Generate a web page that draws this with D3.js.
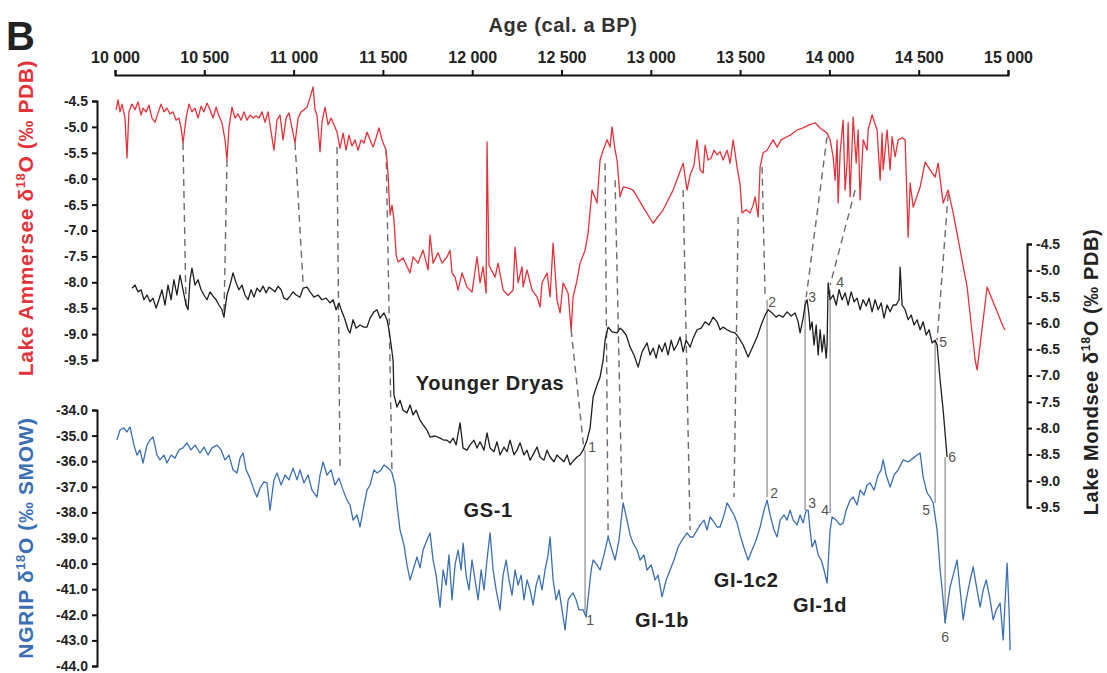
<!DOCTYPE html>
<html><head><meta charset="utf-8">
<script src="https://cdn.jsdelivr.net/npm/d3@7"></script>
<style>
body{margin:0;background:#fff}
svg{display:block}
text{font-family:"Liberation Sans",Arial,Helvetica,sans-serif}
</style>
</head><body>
<svg id="chart" width="1107" height="673"></svg>
<script>
// ---------- DATA ----------
const ageTicks = [10000,10500,11000,11500,12000,12500,13000,13500,14000,14500,15000];
const lakeTicks = [-4.5,-5.0,-5.5,-6.0,-6.5,-7.0,-7.5,-8.0,-8.5,-9.0,-9.5];
const ngripTicks = [-34,-35,-36,-37,-38,-39,-40,-41,-42,-43,-44];

// Lake Ammersee δ18O (‰ PDB)
const ammerseeAge = [10006,10017,10028,10039,10056,10067,10078,10095,10112,10129,10146,10157,10174,10190,10207,10224,10241,10258,10274,10291,10308,10325,10342,10358,10370,10381,10398,10414,10431,10448,10465,10482,10498,10515,10532,10549,10566,10582,10599,10616,10627,10638,10655,10672,10689,10706,10722,10739,10756,10773,10790,10806,10823,10840,10857,10874,10890,10907,10924,10941,10958,10974,10991,11008,11025,11042,11058,11075,11092,11109,11120,11131,11148,11159,11176,11193,11210,11226,11243,11260,11277,11294,11310,11327,11344,11361,11378,11394,11411,11428,11445,11462,11478,11495,11506,11518,11529,11540,11551,11562,11574,11585,11613,11652,11669,11697,11725,11753,11764,11781,11809,11831,11859,11876,11887,11904,11921,11943,11971,11999,12027,12044,12061,12078,12083,12094,12128,12145,12173,12201,12229,12240,12257,12279,12285,12307,12335,12363,12380,12391,12419,12436,12453,12475,12492,12509,12537,12554,12565,12587,12604,12632,12649,12671,12699,12716,12733,12755,12772,12783,12800,12811,12828,12845,12873,12901,12957,13013,13069,13125,13181,13203,13220,13242,13259,13276,13293,13304,13321,13338,13354,13371,13388,13405,13427,13444,13461,13483,13500,13511,13534,13556,13573,13584,13601,13612,13629,13651,13668,13685,13707,13730,13752,13780,13819,13853,13886,13920,13948,13987,14004,14021,14032,14043,14049,14060,14077,14088,14099,14105,14116,14133,14150,14161,14172,14189,14211,14217,14239,14267,14284,14295,14301,14323,14340,14351,14368,14385,14407,14424,14441,14452,14469,14508,14536,14564,14592,14609,14637,14665,14693,14771,14816,14827,14883,14973,14984];
const ammerseeD18O = [-4.67,-4.48,-4.71,-4.56,-4.83,-5.60,-4.71,-4.56,-4.67,-4.52,-4.77,-4.64,-4.71,-4.58,-4.83,-4.91,-4.73,-4.56,-4.71,-4.64,-4.75,-4.71,-4.87,-4.83,-5.02,-5.31,-4.83,-4.56,-4.71,-4.64,-4.83,-4.60,-4.71,-4.54,-4.67,-4.83,-4.62,-4.79,-4.92,-5.25,-5.64,-5.02,-4.62,-4.83,-4.75,-4.87,-4.71,-4.87,-4.77,-4.83,-4.79,-4.83,-4.71,-4.91,-4.71,-5.10,-5.45,-4.87,-4.77,-5.25,-4.83,-4.73,-5.02,-5.31,-4.83,-4.71,-4.67,-4.62,-4.44,-4.23,-4.67,-4.77,-5.48,-4.91,-4.62,-4.96,-4.83,-4.96,-5.10,-5.41,-5.12,-5.45,-5.16,-5.37,-5.25,-5.45,-5.25,-5.31,-5.10,-5.25,-5.39,-5.21,-5.02,-5.25,-5.35,-5.45,-5.93,-6.70,-6.51,-6.80,-7.47,-7.61,-7.53,-7.82,-7.51,-7.63,-7.38,-7.76,-7.09,-7.63,-7.43,-7.63,-7.51,-7.38,-7.82,-7.90,-8.15,-7.82,-8.09,-8.19,-7.51,-8.01,-7.70,-8.21,-5.29,-7.67,-7.90,-7.63,-8.15,-8.25,-8.15,-7.32,-8.01,-7.70,-8.09,-7.76,-8.15,-8.28,-8.48,-8.01,-7.82,-8.28,-7.24,-8.34,-8.59,-8.01,-8.21,-8.92,-8.28,-7.96,-7.63,-7.38,-7.05,-6.22,-6.47,-5.64,-5.45,-5.25,-5.39,-5.00,-5.45,-5.64,-6.35,-6.16,-6.18,-6.22,-6.55,-6.86,-6.60,-6.22,-5.70,-6.22,-5.93,-5.74,-5.25,-5.83,-5.89,-5.35,-5.64,-5.60,-5.45,-5.54,-5.48,-5.64,-5.45,-5.70,-5.25,-5.77,-6.12,-6.66,-6.60,-6.66,-6.51,-6.35,-6.74,-5.77,-5.50,-5.45,-5.35,-5.25,-5.39,-5.25,-5.21,-5.16,-5.06,-5.02,-4.96,-4.92,-5.02,-5.12,-5.25,-5.58,-6.03,-5.25,-6.47,-5.50,-4.87,-6.22,-5.70,-4.92,-6.35,-4.81,-5.70,-5.06,-6.41,-5.25,-5.45,-5.06,-4.77,-5.06,-6.03,-5.12,-5.83,-5.06,-5.83,-5.19,-5.58,-5.25,-5.21,-5.25,-7.13,-6.08,-6.55,-6.16,-5.68,-5.83,-5.97,-5.70,-6.47,-6.22,-6.66,-8.09,-9.50,-9.69,-8.09,-8.86,-8.92];

// Lake Mondsee δ18O (‰ PDB)
const mondseeAge = [10095,10112,10129,10146,10162,10179,10196,10213,10230,10246,10263,10280,10297,10314,10330,10347,10364,10381,10398,10409,10420,10431,10448,10465,10482,10498,10515,10532,10549,10566,10582,10599,10610,10627,10644,10661,10678,10694,10711,10728,10745,10762,10778,10795,10812,10829,10846,10862,10879,10896,10913,10930,10946,10963,10980,10997,11014,11036,11053,11075,11092,11114,11137,11159,11182,11204,11221,11238,11254,11271,11288,11305,11316,11333,11350,11372,11394,11411,11428,11450,11467,11484,11506,11523,11534,11546,11557,11562,11579,11596,11613,11635,11652,11669,11686,11708,11725,11747,11764,11792,11820,11842,11859,11876,11893,11910,11932,11949,11971,11988,12010,12027,12044,12066,12083,12100,12122,12139,12156,12178,12195,12212,12234,12251,12268,12290,12307,12324,12346,12363,12380,12402,12419,12436,12458,12475,12492,12514,12531,12548,12570,12587,12604,12621,12643,12660,12677,12699,12716,12733,12744,12761,12783,12811,12828,12839,12862,12884,12906,12929,12951,12979,12996,13013,13030,13046,13063,13080,13097,13114,13130,13147,13164,13181,13198,13220,13237,13259,13282,13304,13326,13349,13371,13388,13405,13427,13450,13472,13494,13517,13545,13567,13595,13618,13640,13657,13679,13702,13718,13741,13763,13786,13808,13825,13836,13853,13864,13875,13886,13892,13903,13914,13926,13937,13948,13959,13970,13982,13987,13993,14004,14021,14038,14054,14071,14088,14105,14122,14138,14155,14172,14189,14206,14222,14239,14256,14273,14290,14306,14323,14340,14357,14374,14390,14396,14407,14424,14441,14458,14474,14491,14508,14525,14542,14558,14575,14592,14603,14620,14637,14659];
const mondseeD18O = [-5.34,-5.28,-5.41,-5.37,-5.56,-5.47,-5.60,-5.53,-5.72,-5.56,-5.37,-5.66,-5.28,-5.56,-5.18,-5.47,-5.09,-5.37,-5.66,-5.75,-5.18,-4.96,-5.28,-5.18,-5.37,-5.47,-5.56,-5.41,-5.49,-5.56,-5.66,-5.75,-5.89,-5.47,-5.28,-5.05,-5.24,-5.37,-5.28,-5.47,-5.56,-5.37,-5.51,-5.34,-5.41,-5.30,-5.43,-5.32,-5.36,-5.41,-5.30,-5.37,-5.53,-5.56,-5.49,-5.41,-5.47,-5.51,-5.34,-5.32,-5.41,-5.51,-5.47,-5.56,-5.53,-5.62,-5.56,-5.75,-5.62,-5.79,-5.94,-6.13,-6.19,-5.94,-6.10,-6.04,-6.08,-6.08,-5.91,-5.79,-5.75,-5.91,-5.81,-5.94,-6.13,-6.42,-6.71,-7.37,-7.60,-7.47,-7.66,-7.71,-7.56,-7.75,-7.66,-7.85,-7.94,-8.04,-8.17,-8.15,-8.19,-8.23,-8.23,-8.28,-8.19,-8.32,-7.90,-8.38,-8.42,-8.32,-8.23,-8.38,-8.26,-8.42,-8.09,-8.38,-8.45,-8.26,-8.51,-8.36,-8.45,-8.23,-8.51,-8.42,-8.28,-8.51,-8.42,-8.61,-8.47,-8.36,-8.55,-8.61,-8.42,-8.55,-8.64,-8.51,-8.57,-8.64,-8.51,-8.70,-8.61,-8.55,-8.51,-8.42,-8.23,-8.00,-7.41,-7.18,-7.03,-6.71,-6.33,-6.08,-6.17,-6.19,-6.10,-6.13,-6.23,-6.46,-6.61,-6.84,-6.55,-6.38,-6.61,-6.48,-6.67,-6.42,-6.55,-6.38,-6.61,-6.33,-6.52,-6.42,-6.27,-6.55,-6.33,-6.46,-6.29,-6.13,-6.10,-5.98,-6.04,-5.89,-5.98,-6.13,-6.08,-6.13,-6.17,-6.19,-6.29,-6.42,-6.65,-6.48,-6.27,-6.04,-5.85,-5.75,-5.81,-5.89,-5.85,-5.89,-5.79,-5.87,-5.81,-5.98,-6.19,-5.91,-5.66,-5.56,-5.85,-6.13,-5.98,-6.42,-6.04,-6.61,-6.13,-6.55,-6.23,-6.67,-6.42,-5.24,-5.56,-5.47,-5.66,-5.37,-5.56,-5.43,-5.66,-5.41,-5.60,-5.53,-5.75,-5.56,-5.68,-5.53,-5.79,-5.56,-5.75,-5.62,-5.91,-5.66,-5.79,-5.66,-5.66,-5.56,-4.94,-5.66,-5.75,-5.94,-5.85,-6.04,-5.94,-6.13,-5.98,-6.23,-6.13,-6.38,-6.33,-6.42,-7.09,-7.66,-8.55];

// NGRIP δ18O (‰ SMOW)
const ngripAge = [10011,10028,10050,10067,10084,10106,10123,10140,10157,10179,10196,10213,10235,10252,10274,10291,10314,10336,10358,10381,10403,10426,10448,10476,10498,10521,10543,10571,10594,10616,10638,10661,10683,10700,10717,10734,10756,10778,10795,10812,10834,10851,10868,10890,10907,10930,10952,10974,10997,11019,11036,11058,11081,11103,11131,11148,11165,11187,11210,11232,11254,11277,11299,11316,11333,11355,11372,11389,11411,11428,11450,11467,11490,11506,11523,11540,11551,11568,11579,11596,11618,11635,11652,11669,11691,11708,11725,11747,11764,11781,11798,11820,11837,11854,11870,11887,11904,11921,11938,11949,11966,11982,11999,12016,12033,12050,12066,12083,12100,12117,12134,12156,12173,12190,12206,12223,12240,12257,12274,12290,12307,12324,12341,12358,12374,12391,12408,12425,12436,12453,12470,12486,12503,12520,12537,12554,12565,12582,12598,12621,12638,12654,12666,12677,12699,12716,12738,12761,12783,12800,12822,12845,12867,12884,12901,12923,12940,12962,12979,13002,13024,13041,13063,13086,13108,13130,13153,13175,13203,13220,13237,13259,13276,13298,13315,13332,13354,13371,13388,13410,13427,13450,13466,13483,13500,13522,13545,13567,13590,13612,13634,13651,13668,13690,13707,13724,13746,13763,13780,13797,13819,13836,13853,13870,13881,13892,13903,13920,13937,13954,13970,13987,14004,14015,14038,14060,14077,14094,14116,14133,14155,14172,14194,14211,14228,14250,14273,14290,14301,14318,14340,14362,14385,14413,14441,14469,14491,14508,14525,14547,14564,14581,14603,14620,14637,14648,14665,14676,14693,14715,14732,14749,14766,14788,14805,14822,14844,14861,14878,14900,14917,14934,14956,14973,14984,14995,15006,15012];
const ngripD18O = [-35.17,-34.78,-34.70,-34.86,-34.66,-35.37,-35.76,-35.56,-36.07,-35.37,-35.17,-35.05,-35.76,-35.95,-35.76,-36.07,-35.76,-35.88,-35.56,-35.48,-35.29,-35.56,-35.37,-35.68,-35.45,-35.76,-35.48,-35.37,-35.56,-35.95,-35.76,-36.34,-36.46,-35.88,-35.68,-36.34,-36.66,-37.13,-37.40,-37.05,-36.81,-36.85,-37.91,-36.73,-36.46,-36.93,-36.54,-36.73,-36.27,-36.73,-36.34,-36.85,-36.54,-37.13,-37.40,-36.54,-36.03,-36.54,-36.34,-36.93,-36.66,-37.13,-37.52,-37.71,-38.30,-38.10,-38.57,-37.91,-37.13,-36.93,-36.34,-36.46,-36.34,-36.15,-36.23,-36.34,-36.46,-36.93,-37.71,-38.69,-39.27,-40.05,-40.64,-40.25,-39.74,-40.17,-39.47,-39.08,-38.80,-39.86,-40.45,-41.70,-40.25,-40.84,-39.66,-41.42,-40.05,-39.47,-40.25,-39.20,-40.45,-41.03,-39.86,-40.64,-41.42,-40.25,-41.03,-39.86,-38.80,-40.25,-41.03,-41.81,-40.45,-39.86,-40.64,-41.23,-40.25,-40.84,-40.45,-41.42,-40.64,-41.03,-41.62,-40.84,-40.45,-41.03,-40.25,-39.66,-38.96,-40.64,-41.42,-41.03,-41.81,-42.59,-41.42,-41.23,-41.15,-41.42,-41.81,-41.81,-42.09,-41.03,-40.25,-39.86,-40.05,-40.25,-39.66,-38.96,-39.47,-39.86,-39.08,-37.63,-38.30,-38.88,-39.20,-39.47,-39.86,-39.66,-40.25,-40.05,-40.64,-40.45,-41.30,-40.64,-40.25,-39.86,-39.35,-39.08,-38.80,-38.96,-38.96,-38.69,-38.49,-38.30,-38.69,-38.18,-38.38,-38.57,-38.57,-38.10,-37.63,-37.91,-38.10,-38.41,-38.88,-39.39,-39.86,-39.47,-39.08,-38.57,-37.91,-37.52,-38.10,-38.69,-38.96,-38.30,-38.10,-38.30,-37.91,-38.30,-38.49,-38.10,-38.41,-37.91,-37.91,-38.69,-39.35,-39.08,-39.66,-39.86,-40.25,-40.76,-38.69,-38.18,-38.30,-38.49,-38.41,-37.91,-37.52,-37.40,-37.71,-37.13,-37.32,-36.93,-36.85,-37.13,-36.54,-36.34,-35.95,-36.54,-37.01,-36.54,-36.34,-35.95,-36.03,-35.88,-35.76,-35.68,-36.62,-37.24,-37.40,-37.63,-38.69,-40.25,-41.42,-42.32,-41.42,-40.91,-40.45,-39.86,-41.03,-42.20,-41.42,-40.64,-40.13,-40.84,-41.70,-41.03,-40.64,-41.42,-42.20,-41.81,-41.54,-42.98,-41.42,-39.98,-41.81,-43.38];

// Correlation lines: [from series, age, value, to series, age, value]
const dashedLinks = [
  ["ammersee",10381,-5.31,"mondsee",10398,-5.75],
  ["ammersee",10627,-5.64,"mondsee",10610,-5.89],
  ["ammersee",11008,-5.31,"mondsee",11053,-5.24],
  ["ammersee",11243,-5.39,"ngrip",11260,-36.34],
  ["ammersee",11518,-5.45,"ngrip",11551,-36.46],
  ["ammersee",12554,-8.92,"mondsee",12626,-8.42],
  ["ammersee",12744,-5.70,"ngrip",12761,-38.96],
  ["ammersee",12800,-6.03,"ngrip",12839,-37.63],
  ["ammersee",13181,-6.22,"ngrip",13220,-38.69],
  ["ammersee",13489,-6.74,"ngrip",13466,-37.40],
  ["ammersee",13623,-5.77,"mondsee",13640,-5.51],
  ["ammersee",13987,-5.19,"mondsee",13870,-5.51],
  ["ammersee",14144,-6.22,"mondsee",14004,-5.28],
  ["ammersee",14665,-6.30,"mondsee",14603,-6.33]
];
// Solid tie lines Mondsee -> NGRIP: [age, mondsee value, ngrip value]
const solidLinks = [
  [12632,-8.42,-41.93],
  [13651,-5.56,-37.40],
  [13864,-5.56,-37.91],
  [14004,-5.37,-38.02],
  [14592,-6.33,-37.63],
  [14648,-8.55,-42.32]
];
const eventNumbers = ["1","2","3","4","5","6"];
const eventMondsee = [[12671,-8.36],[13679,-5.60],[13903,-5.51],[14060,-5.22],[14637,-6.36],[14687,-8.55]];
const eventNgrip = [[12660,-42.20],[13690,-37.24],[13903,-37.63],[13976,-37.91],[14542,-37.91],[14648,-42.87]];

const periodNames = ["Younger Dryas","GS-1","GI-1b","GI-1c2","GI-1d"];
const periodScale = ["mondsee","ngrip","ngrip","ngrip","ngrip"];
const periodPos = [[12100,-7.14],[12089,-37.91],[13063,-42.20],[13534,-40.64],[13948,-41.62]];

// ---------- CHART ----------
const svg = d3.select("#chart");
const x = d3.scaleLinear().domain([10000,15000]).range([115,1008]);
const yA = d3.scaleLinear().domain([-4.5,-9.5]).range([101,360]);
const yM = d3.scaleLinear().domain([-4.5,-9.5]).range([244,507]);
const yN = d3.scaleLinear().domain([-34,-44]).range([410,666]);
const yBy = {ammersee:yA, mondsee:yM, ngrip:yN};

const RED="#e3323a", BLUE="#3a6fb3", BLACK="#1e1e1e";

// panel letter
svg.append("text").attr("x",6).attr("y",50).attr("font-size",40).attr("font-weight","bold").attr("fill","#222").text("B");

// top axis
const fmtAge = d => { const s=String(d); return s.slice(0,s.length-3)+" "+s.slice(-3); };
const gTop = svg.append("g").attr("transform","translate(0,75)")
  .call(d3.axisTop(x).tickValues(ageTicks).tickFormat(fmtAge).tickSize(5).tickSizeOuter(5).tickPadding(7));
svg.append("text").attr("x",563).attr("y",32).attr("text-anchor","middle")
  .attr("font-size",20).attr("letter-spacing",0.6).attr("font-weight","bold").attr("fill","#333").text("Age (cal. a BP)");

const fmt1 = d => d.toFixed(1);
const gA = svg.append("g").attr("transform","translate(97,0)")
  .call(d3.axisLeft(yA).tickValues(lakeTicks).tickFormat(fmt1).tickSize(5).tickSizeOuter(5).tickPadding(4));
const gN = svg.append("g").attr("transform","translate(97,0)")
  .call(d3.axisLeft(yN).tickValues(ngripTicks).tickFormat(fmt1).tickSize(5).tickSizeOuter(5).tickPadding(4));
const gM = svg.append("g").attr("transform","translate(1027,0)")
  .call(d3.axisRight(yM).tickValues(lakeTicks).tickFormat(fmt1).tickSize(5).tickSizeOuter(5).tickPadding(4));

[gTop,gA,gN,gM].forEach(g=>{
  g.selectAll("path.domain").attr("stroke","#111").attr("stroke-width",2);
  g.selectAll(".tick line").attr("stroke","#111").attr("stroke-width",2);
  g.selectAll(".tick text").attr("font-family",'"Liberation Sans",Arial,sans-serif')
   .attr("font-weight","bold").attr("fill","#222");
});
gTop.selectAll(".tick text").attr("font-size",16);
[gA,gN,gM].forEach(g=>g.selectAll(".tick text").attr("font-size",14));

// axis titles
function vTitle(cx, cy, color, pre, post, size){
  const t = svg.append("text").attr("transform",`translate(${cx},${cy}) rotate(-90)`)
    .attr("text-anchor","middle").attr("font-size",size).attr("letter-spacing",0.6)
    .attr("font-weight","bold").attr("fill",color);
  t.append("tspan").text(pre);
  t.append("tspan").attr("font-size",size*0.62).attr("dy",-size*0.4).text("18");
  t.append("tspan").attr("dy",size*0.4).text(post);
}
vTitle(33, 218, RED, "Lake Ammersee δ", "O (‰ PDB)", 21);
vTitle(33, 538, BLUE, "NGRIP δ", "O (‰ SMOW)", 21);
vTitle(1098, 372, "#222", "Lake Mondsee δ", "O (‰ PDB)", 20);

// correlation lines
svg.append("g").selectAll("line").data(dashedLinks).join("line")
  .attr("x1",d=>x(d[1])).attr("y1",d=>yBy[d[0]](d[2]))
  .attr("x2",d=>x(d[4])).attr("y2",d=>yBy[d[3]](d[5]))
  .attr("stroke","#6a6a6a").attr("stroke-width",1.4).attr("stroke-dasharray","7,5");
svg.append("g").selectAll("line").data(solidLinks).join("line")
  .attr("x1",d=>x(d[0])).attr("y1",d=>yM(d[1]))
  .attr("x2",d=>x(d[0])).attr("y2",d=>yN(d[2]))
  .attr("stroke","#9a9a9a").attr("stroke-width",1.4);

// series
function series(ages, vals, y, color){
  const pts = ages.map((a,i)=>[a,vals[i]]);
  svg.append("path").datum(pts)
    .attr("d", d3.line().x(d=>x(d[0])).y(d=>y(d[1])))
    .attr("fill","none").attr("stroke",color).attr("stroke-width",1.3).attr("stroke-linejoin","round");
}
series(ammerseeAge, ammerseeD18O, yA, RED);
series(mondseeAge, mondseeD18O, yM, BLACK);
series(ngripAge, ngripD18O, yN, BLUE);

// event numbers
const gNum = svg.append("g").attr("font-size",14).attr("fill","#555").attr("text-anchor","middle");
eventNumbers.forEach((n,i)=>{
  gNum.append("text").attr("x",x(eventMondsee[i][0])).attr("y",yM(eventMondsee[i][1])).attr("dy","0.35em").text(n);
  gNum.append("text").attr("x",x(eventNgrip[i][0])).attr("y",yN(eventNgrip[i][1])).attr("dy","0.35em").text(n);
});

// period labels
periodNames.forEach((n,i)=>{
  svg.append("text").attr("x",x(periodPos[i][0])).attr("y",yBy[periodScale[i]](periodPos[i][1]))
    .attr("dy","0.35em").attr("text-anchor","middle").attr("font-size",20).attr("letter-spacing",0.6)
    .attr("font-weight","bold").attr("fill","#222").text(n);
});
</script>
</body></html>
